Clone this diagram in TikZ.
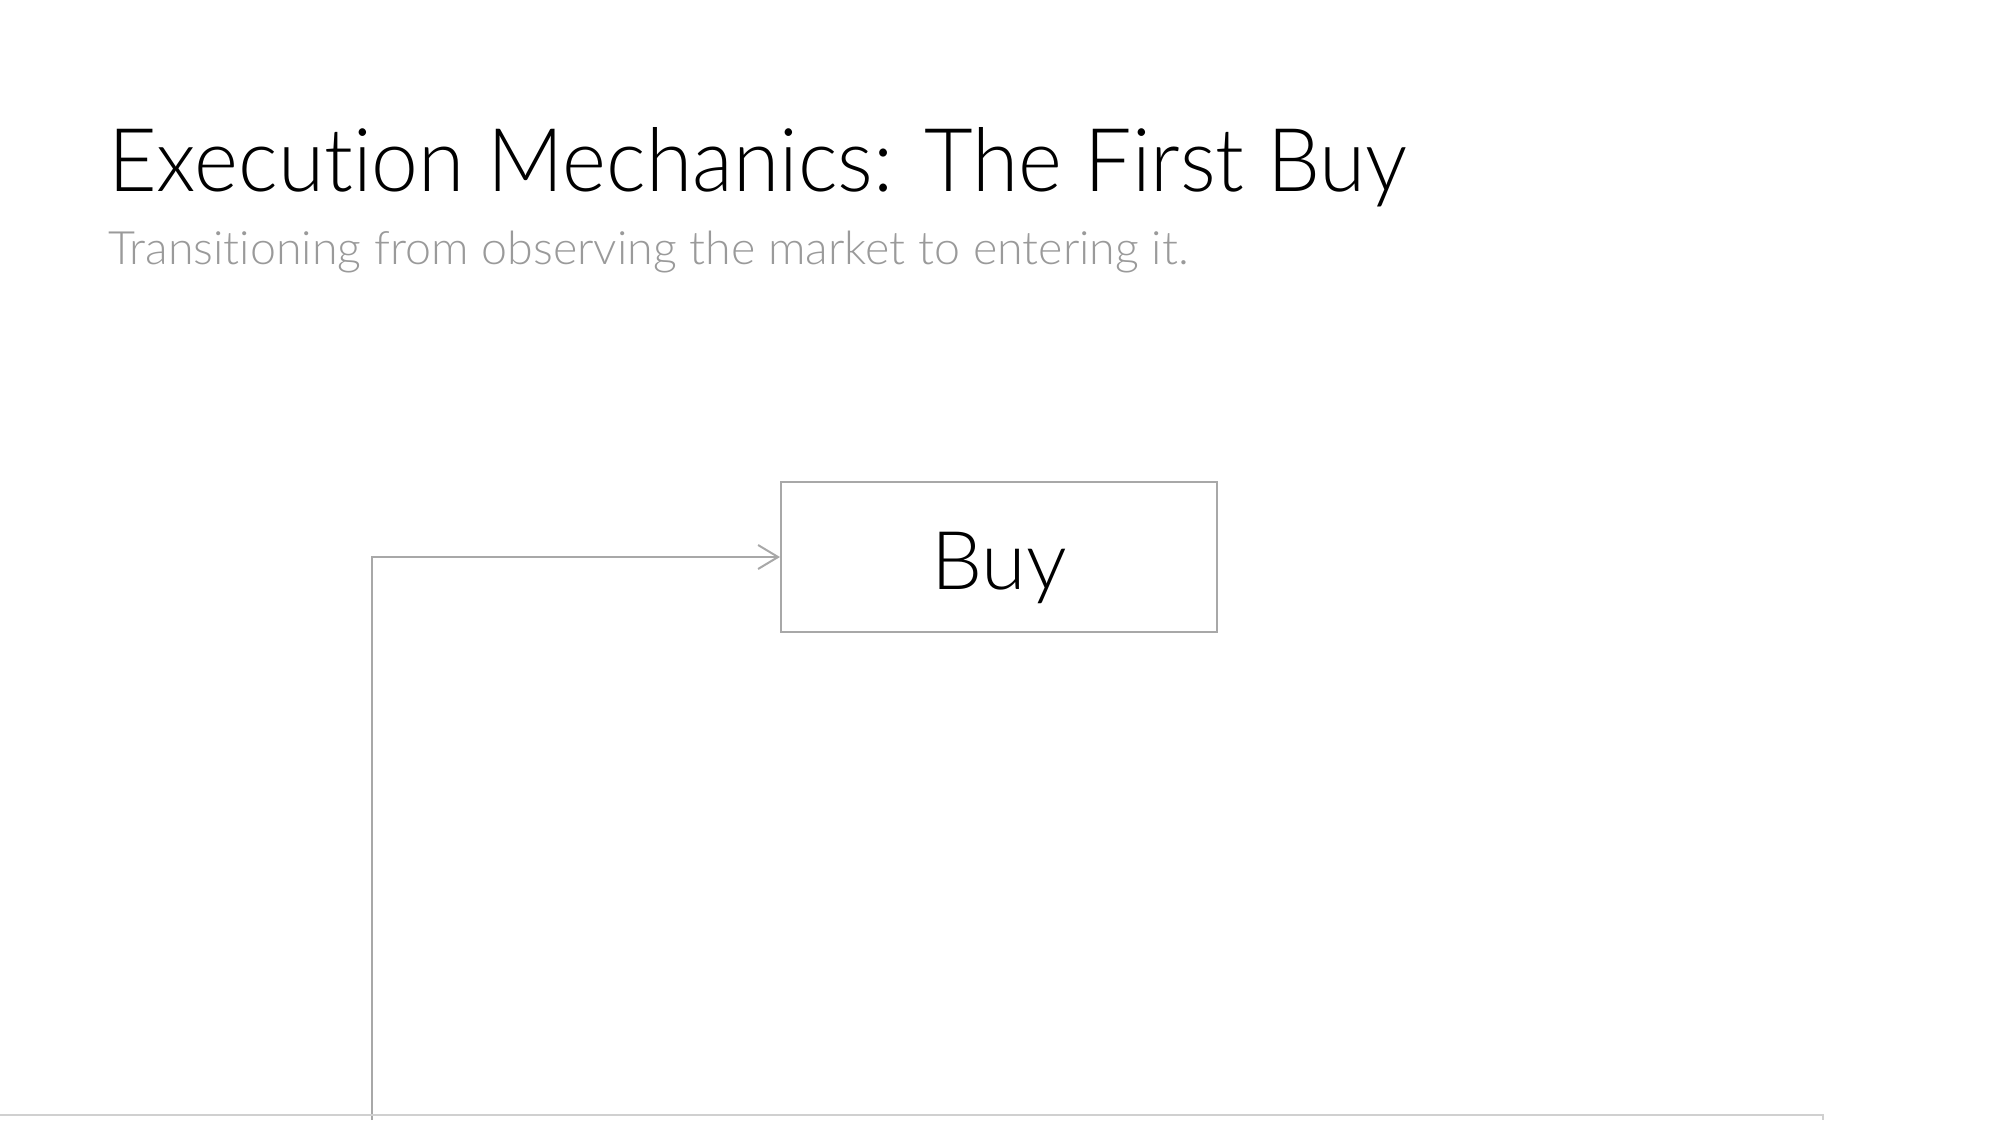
\documentclass[tikz,border=0pt]{standalone}
\usepackage{fontspec}
\setmainfont{Lato Light}[Ligatures=NoCommon]
\newfontfamily\titlefont{Lato Light}[Ligatures=NoCommon, FakeStretch=0.955]
\newfontfamily\subfont{Lato Light}[Ligatures=NoCommon, FakeStretch=1.013]
\usetikzlibrary{arrows.meta}
\definecolor{linegray}{HTML}{A8A8A8}
\definecolor{subgray}{HTML}{9A9A9A}
\definecolor{edgegray}{HTML}{D0D0D0}
\tikzset{
  titletext/.style={anchor=base west, inner sep=0pt, font=\titlefont\fontsize{88}{100}\selectfont, text=black},
  subtext/.style={anchor=base west, inner sep=0pt, font=\subfont\fontsize{46}{56}\selectfont, text=subgray},
  buybox/.style={draw=linegray, line width=2pt, minimum width=436pt, minimum height=150pt, inner sep=0pt, text height=64pt, text depth=0pt, font=\fontsize{81}{100}\selectfont},
  conn/.style={draw=linegray, line width=2pt, -{Straight Barb[length=20pt, width=24pt, line width=2pt]}},
}
\begin{document}
\begin{tikzpicture}[x=1pt,y=-1pt]
\useasboundingbox (0,0) rectangle (1999,1120);
\node[titletext] (title) at (108,191) {Execution Mechanics: The First Buy};
\node[subtext] (sub) at (108,264) {Transitioning from observing the market to entering it.};
\node[buybox] (buy) at (999,557) {Buy};
\coordinate (start) at (372,1120);
\draw[conn] (start) |- (buy.west);
\draw[edgegray, line width=2pt] (0,1115) -- (1823,1115) -- (1823,1120);
\end{tikzpicture}
\end{document}
